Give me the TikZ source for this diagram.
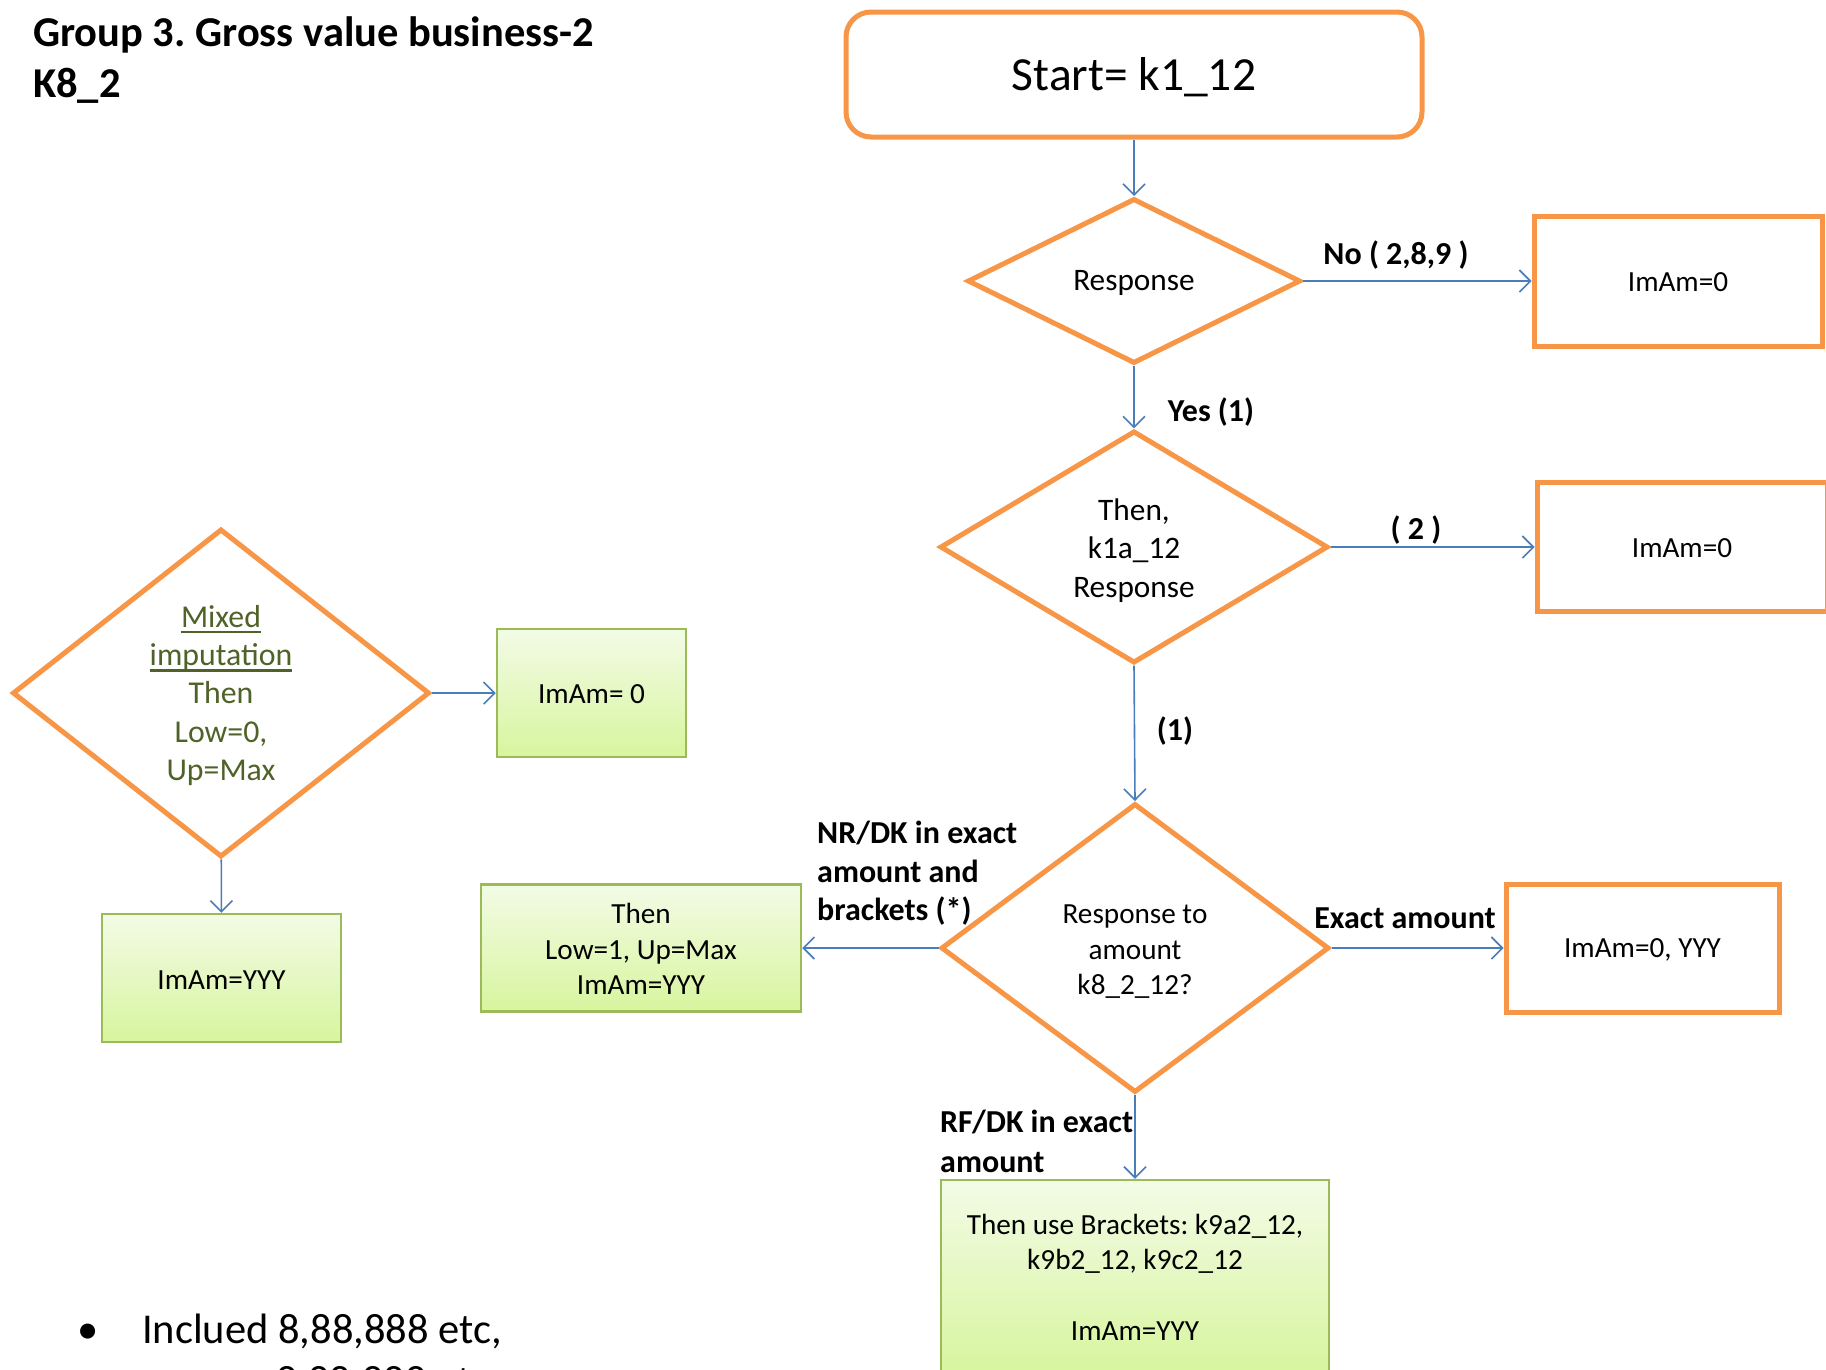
\documentclass[tikz,border=0pt]{standalone}
\usepackage{fontspec}
\setmainfont{Carlito}
\usetikzlibrary{shapes.geometric,arrows.meta}
\definecolor{orng}{HTML}{F79646}
\definecolor{conncol}{HTML}{4A7EBB}
\definecolor{gborder}{HTML}{9BBB59}
\definecolor{gtop}{HTML}{F3FBE6}
\definecolor{gbot}{HTML}{D7F59E}
\definecolor{olive}{HTML}{4F6228}
\newcommand\myul[1]{{\setbox0\hbox{#1}\leavevmode\rlap{\rule[-6pt]{\wd0}{2.5pt}}\box0}}
\newcommand\mystrut[1]{\rule{0pt}{#1pt}}
\frenchspacing
\begin{document}
\begin{tikzpicture}[x=1pt,y=-1pt,
  txt/.style={font=\fontsize{29.2}{35.5}\selectfont},
  lbl/.style={font=\bfseries\fontsize{32}{38.4}\selectfont,inner sep=0pt},
  conn/.style={draw=conncol,line width=1.6pt,-{Straight Barb[length=11pt,width=22pt]}},
  dec/.style={diamond,draw=orng,line width=5pt,fill=white,inner sep=0pt,align=center},
  obox/.style={rectangle,draw=orng,line width=5pt,fill=white,align=center},
  gbox/.style={rectangle,draw=gborder,line width=2.5pt,top color=gtop,bottom color=gbot,align=center}]
\useasboundingbox (0,0) rectangle (1826,1369);
\fill[white] (0,0) rectangle (1826,1369);

% title
\node[anchor=west,font=\bfseries\fontsize{42.5}{51}\selectfont,align=left,inner sep=0pt] (title) at (33,60) {Group 3. Gross value business-2\\K8\_2};

% main column
\node[obox,rounded corners=25pt,minimum width=576pt,minimum height=125pt,font=\fontsize{47.5}{57}\selectfont] (start) at (1134,74.5) {\mystrut{38.8}Start= k1\_12};
\node[dec,minimum width=333pt,minimum height=165pt,font=\fontsize{31.3}{38}\selectfont] (d1) at (1134,281) {\mystrut{24.8}Response};
\node[obox,minimum width=288pt,minimum height=130pt,txt] (n1) at (1678,281) {\mystrut{20.8}ImAm=0};
\node[dec,minimum width=388pt,minimum height=220pt,font=\fontsize{31.3}{38.4}\selectfont] (d2) at (1134,547) {\mystrut{28.9}Then,\\k1a\_12\\Response};
\node[obox,minimum width=290pt,minimum height=129pt,txt] (n2) at (1682,547) {\mystrut{21.2}ImAm=0};
\node[dec,minimum width=388pt,minimum height=289pt,txt] (d3) at (1135,948) {\mystrut{26.8}Response to\\amount\\k8\_2\_12?};
\node[gbox,minimum width=320pt,minimum height=127pt,txt] (g1) at (641,948) {\mystrut{22.8}Then\\Low=1, Up=Max\\ImAm=YYY};
\node[obox,minimum width=273pt,minimum height=128pt,txt] (n3) at (1642.5,948) {\mystrut{23.4}ImAm=0, YYY};
\node[gbox,minimum width=388pt,minimum height=194pt,txt] (g2) at (1135,1277) {Then use Brackets: k9a2\_12,\\k9b2\_12, k9c2\_12\\[35pt]ImAm=YYY};

% left part
\node[dec,minimum width=417pt,minimum height=328pt,font=\fontsize{31.8}{38.4}\selectfont,text=olive] (dl) at (221,693) {\mystrut{26.9}\myul{Mixed}\\\myul{imputation}\\Then\\Low=0,\\Up=Max};
\node[gbox,minimum width=189pt,minimum height=128pt,txt] (g3) at (591.5,693) {\mystrut{20.8}ImAm= 0};
\node[gbox,minimum width=239pt,minimum height=128pt,txt] (g4) at (221.5,978) {\mystrut{23.4}ImAm=YYY};

% connectors
\draw[conn] (start) -- (d1);
\draw[conn] (d1) -- (n1);
\draw[conn] (d1) -- (d2);
\draw[conn] (d2) -- (n2);
\draw[conn] (d2.south) -- (d3.north);
\draw[conn] (d3) -- (g1);
\draw[conn] (d3) -- (n3);
\draw[conn] (d3.south) -- (g2.north);
\draw[conn] (dl) -- (g3);
\draw[conn] (dl) -- (g4);

% labels
\node[lbl] (lno) at (1396,255.3) {No ( 2,8,9 )};
\node[lbl] (lyes) at (1211,412.3) {Yes (1)};
\node[lbl] (ltwo) at (1416,529.8) {( 2 )};
\node[lbl] (lone) at (1175,731.3) {(1)};
\node[lbl,anchor=west,align=left] (lnr) at (817,873.3) {NR/DK in exact\\amount and\\brackets (*)};
\node[lbl] (lex) at (1405,918) {Exact amount};
\node[lbl,anchor=west,align=left,font=\bfseries\fontsize{32}{40}\selectfont] (lrf) at (940,1141) {RF/DK in exact\\amount};

% bullet text
\node[anchor=base,font=\fontsize{42.5}{52}\selectfont,inner sep=0pt] (bul) at (88,1343.5) {•};
\node[anchor=base west,font=\fontsize{42.5}{52}\selectfont,inner sep=0pt] (b1) at (142,1343.5) {Inclued 8,88,888 etc,};
\node[anchor=base west,font=\fontsize{42.5}{52}\selectfont,inner sep=0pt] (b2) at (276,1395.5) {8,88,888 etc};
\end{tikzpicture}
\end{document}
